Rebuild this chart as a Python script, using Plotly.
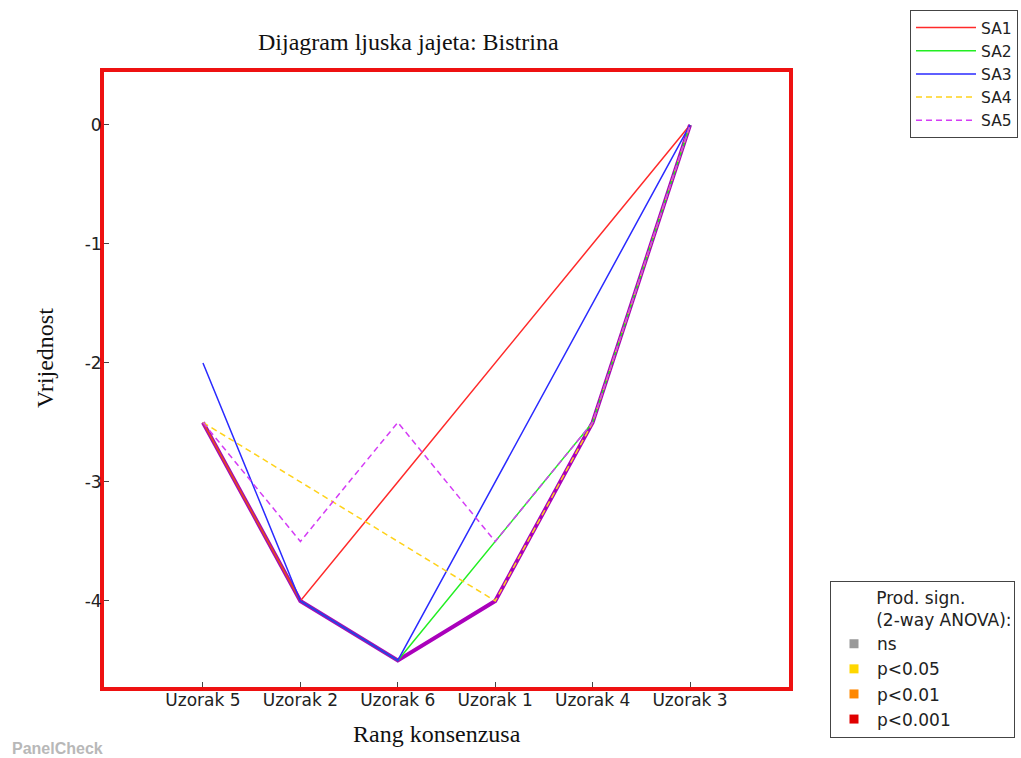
import plotly.graph_objects as go

categories = ["Uzorak 5", "Uzorak 2", "Uzorak 6", "Uzorak 1", "Uzorak 4", "Uzorak 3"]
consensus = [-2.5, -4.0, -4.5, -4.0, -2.5, 0.0]
sa1 = [-2.5, -4.0, -3.0, -2.0, -1.0, 0.0]
sa2 = [-2.5, -4.0, -4.5, -3.5, -2.5, 0.0]
sa3 = [-2.0, -4.0, -4.5, -3.0, -1.5, 0.0]
sa4 = [-2.5, -3.0, -3.5, -4.0, -2.5, 0.0]
sa5 = [-2.5, -3.5, -2.5, -3.5, -2.5, 0.0]
assessors = ["SA1", "SA2", "SA3", "SA4", "SA5"]
sig_labels = ["ns", "p<0.05", "p<0.01", "p<0.001"]
y_ticks = [0, -1, -2, -3, -4]

series = [sa1, sa2, sa3, sa4, sa5]
colors = ["#ff2a2a", "#22ee22", "#2a2aff", "#ffd21a", "#d43cf5"]
dashes = ["solid", "solid", "solid", "6px,4px", "6px,4px"]
draw_order = [1, 0, 2, 3, 4]
sig_colors = ["#999999", "#ffd700", "#ff8800", "#e00000"]

fig = go.Figure()

fig.add_trace(go.Scatter(x=categories, y=consensus, mode="lines",
                         line=dict(color="#aa00bb", width=4),
                         showlegend=False, hoverinfo="skip"))

for i in draw_order:
    fig.add_trace(go.Scatter(x=categories, y=series[i], mode="lines", name=assessors[i],
                             line=dict(color=colors[i], width=1.5, dash=dashes[i]),
                             legend="legend", legendrank=i + 1))

for k, (lab, col) in enumerate(zip(sig_labels, sig_colors)):
    fig.add_trace(go.Scatter(x=[None], y=[None], mode="markers", name=lab,
                             marker=dict(symbol="square", size=9, color=col),
                             legend="legend2", legendrank=k + 1))

L, R, T, B = 104, 232, 72, 71
W, H = 1021, 758
pw, ph = W - L - R, H - T - B

def px(x):
    return (x - L) / pw

def py(y):
    return (H - B - y) / ph

fig.update_layout(
    width=W, height=H,
    margin=dict(l=L, r=R, t=T, b=B, autoexpand=False),
    plot_bgcolor="white", paper_bgcolor="white",
    font=dict(family="DejaVu Sans", size=17, color="#222222"),
    xaxis=dict(type="category", range=[-1.016, 6.016], showgrid=False, zeroline=False,
               showline=True, mirror=True, linecolor="#ee1111", linewidth=4,
               ticks="inside", ticklen=5, tickcolor="#444444", ticklabelstandoff=-5,
               tickfont=dict(family="DejaVu Sans", size=17, color="#222222")),
    yaxis=dict(range=[-4.723, 0.445], showgrid=False, zeroline=False,
               showline=True, mirror=True, linecolor="#ee1111", linewidth=4,
               tickvals=y_ticks, ticktext=[str(v) for v in y_ticks],
               ticks="inside", ticklen=5, tickcolor="#444444", ticklabelstandoff=-5,
               tickfont=dict(family="DejaVu Sans", size=17, color="#222222")),
    legend=dict(x=px(910), y=py(10), xanchor="left", yanchor="top",
                bgcolor="white", bordercolor="#444444", borderwidth=1,
                font=dict(family="DejaVu Sans", size=15.5, color="#222222"),
                tracegroupgap=0, itemwidth=60),
    legend2=dict(x=px(830), y=py(581), xanchor="left", yanchor="top",
                 bgcolor="white", bordercolor="#444444", borderwidth=1,
                 font=dict(family="DejaVu Sans", size=17, color="#222222"),
                 title=dict(text="        Prod. sign.<br>        (2-way ANOVA):",
                            side="top", font=dict(family="DejaVu Sans", size=17)),
                 itemwidth=36),
    showlegend=True,
)

fig.add_annotation(text="Dijagram ljuska jajeta: Bistrina", xref="paper", yref="paper",
                   x=px(408), y=py(42), xanchor="center", yanchor="middle", showarrow=False,
                   font=dict(family="Liberation Serif", size=24, color="#111111"))
fig.add_annotation(text="Rang konsenzusa", xref="paper", yref="paper",
                   x=px(437), y=py(734), xanchor="center", yanchor="middle", showarrow=False,
                   font=dict(family="Liberation Serif", size=24, color="#111111"))
fig.add_annotation(text="Vrijednost", xref="paper", yref="paper", textangle=-90,
                   x=px(45), y=py(358), xanchor="center", yanchor="middle", showarrow=False,
                   font=dict(family="Liberation Serif", size=24, color="#111111"))
fig.add_annotation(text="<b>PanelCheck</b>", xref="paper", yref="paper",
                   x=px(10), y=py(748), xanchor="left", yanchor="middle", showarrow=False,
                   font=dict(family="Liberation Sans", size=16, color="#b8b8b8"))

fig.write_html("out.html", config={"displayModeBar": False},
               post_script="document.body.style.margin='0px';")
